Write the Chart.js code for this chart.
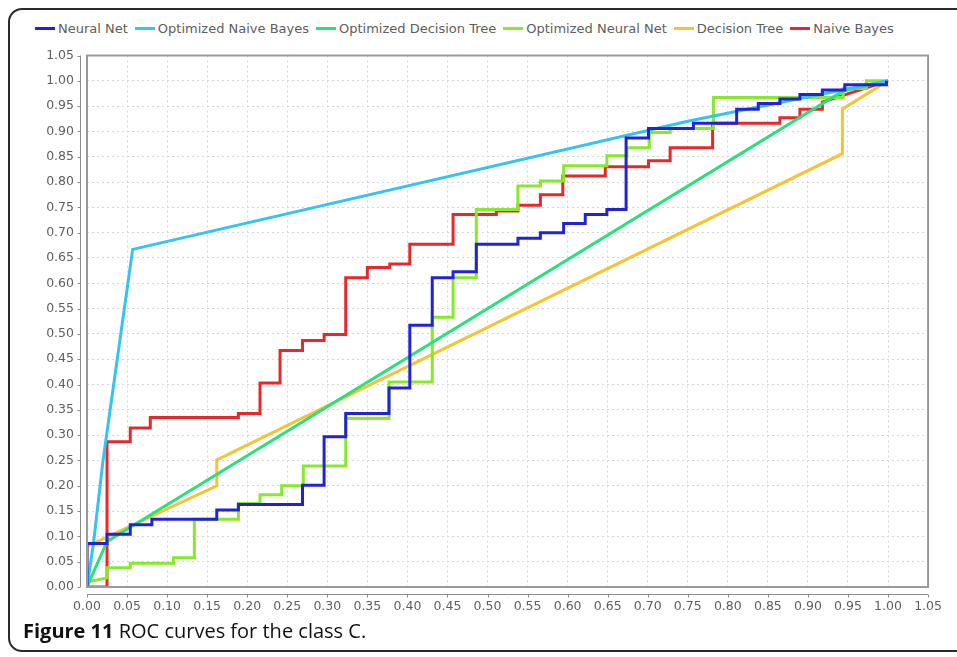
<!DOCTYPE html>
<html>
<head>
<meta charset="utf-8">
<script src="https://cdn.jsdelivr.net/npm/chart.js@4/dist/chart.umd.min.js"></script>
<style>
  body { margin: 0; background: #fff; width: 957px; height: 657px; overflow: hidden; position: relative; }
  #frame { position: absolute; left: 8px; top: 8px; width: 990px; height: 640px; border: 2px solid #2a2a2a; border-radius: 14px; }
  #legend { position: absolute; left: 35px; top: 21px; display: flex; align-items: center; font: 13px "DejaVu Sans", sans-serif; color: #5e5e5e; white-space: nowrap; }
  #legend .item { display: flex; align-items: center; margin-right: 7px; }
  #legend .swatch { width: 20px; height: 3px; margin-right: 3px; }
  #box { position: absolute; left: 0; top: 35px; width: 954px; height: 585px; }
  #caption { position: absolute; left: 23px; top: 617px; font: 20px "Open Sans", sans-serif; color: #111; }
</style>
</head>
<body>
<div id="frame"></div>
<div id="legend"></div>
<div id="box"><canvas id="rocChart"></canvas></div>
<div id="caption"><b>Figure 11</b> ROC curves for the class C.</div>
<script>
const seriesNames = ['Neural Net', 'Optimized Naive Bayes', 'Optimized Decision Tree', 'Optimized Neural Net', 'Decision Tree', 'Naive Bayes'];
const seriesColors = ['#2323d6', '#35c4ef', '#27e27c', '#86ea2a', '#f6c332', '#e6282b'];

// false positive rate (x) / true positive rate (y)
const neuralNetX = [0, 0, 0.025, 0.025, 0.054, 0.054, 0.081, 0.081, 0.162, 0.162, 0.189, 0.189, 0.269, 0.269, 0.296, 0.296, 0.323, 0.323, 0.377, 0.377, 0.403, 0.403, 0.431, 0.431, 0.457, 0.457, 0.486, 0.486, 0.538, 0.538, 0.566, 0.566, 0.595, 0.595, 0.622, 0.622, 0.649, 0.649, 0.673, 0.673, 0.701, 0.701, 0.757, 0.757, 0.811, 0.811, 0.838, 0.838, 0.865, 0.865, 0.890, 0.890, 0.918, 0.918, 0.946, 0.946, 0.998, 0.998];
const neuralNetY = [0, 0.086, 0.086, 0.104, 0.104, 0.123, 0.123, 0.134, 0.134, 0.152, 0.152, 0.163, 0.163, 0.201, 0.201, 0.297, 0.297, 0.343, 0.343, 0.393, 0.393, 0.517, 0.517, 0.611, 0.611, 0.623, 0.623, 0.677, 0.677, 0.689, 0.689, 0.700, 0.700, 0.718, 0.718, 0.736, 0.736, 0.746, 0.746, 0.887, 0.887, 0.906, 0.906, 0.916, 0.916, 0.944, 0.944, 0.955, 0.955, 0.964, 0.964, 0.973, 0.973, 0.982, 0.982, 0.992, 0.992, 1.0];

const optNaiveBayesX = [0, 0.008, 0.020, 0.057, 0.75, 1.0];
const optNaiveBayesY = [0, 0.085, 0.250, 0.667, 0.92, 1.0];

const optDecisionTreeX = [0, 0.025, 0.944, 1.0];
const optDecisionTreeY = [0, 0.090, 0.980, 1.0];

const optNeuralNetX = [0, 0.025, 0.025, 0.054, 0.054, 0.108, 0.108, 0.134, 0.134, 0.189, 0.189, 0.216, 0.216, 0.243, 0.243, 0.270, 0.270, 0.323, 0.323, 0.377, 0.377, 0.431, 0.431, 0.457, 0.457, 0.486, 0.486, 0.538, 0.538, 0.566, 0.566, 0.595, 0.595, 0.649, 0.649, 0.674, 0.674, 0.702, 0.702, 0.728, 0.728, 0.782, 0.782, 0.944, 0.944, 0.973, 0.973, 1.0];
const optNeuralNetY = [0.010, 0.018, 0.038, 0.038, 0.047, 0.047, 0.058, 0.058, 0.134, 0.134, 0.165, 0.165, 0.182, 0.182, 0.200, 0.200, 0.239, 0.239, 0.333, 0.333, 0.405, 0.405, 0.533, 0.533, 0.611, 0.611, 0.746, 0.746, 0.792, 0.792, 0.802, 0.802, 0.832, 0.832, 0.852, 0.852, 0.868, 0.868, 0.898, 0.898, 0.906, 0.906, 0.967, 0.967, 0.985, 0.985, 1.0, 1.0];

const decisionTreeX = [0, 0, 0.162, 0.162, 0.943, 0.943, 1.0];
const decisionTreeY = [0, 0.080, 0.200, 0.251, 0.856, 0.944, 1.0];

const naiveBayesX = [0, 0.025, 0.025, 0.054, 0.054, 0.079, 0.079, 0.189, 0.189, 0.216, 0.216, 0.241, 0.241, 0.269, 0.269, 0.296, 0.296, 0.323, 0.323, 0.350, 0.350, 0.378, 0.378, 0.403, 0.403, 0.457, 0.457, 0.511, 0.511, 0.538, 0.538, 0.566, 0.566, 0.594, 0.594, 0.647, 0.647, 0.701, 0.701, 0.728, 0.728, 0.781, 0.781, 0.865, 0.865, 0.890, 0.890, 0.918, 0.918, 1.0];
const naiveBayesY = [0, 0, 0.287, 0.287, 0.314, 0.314, 0.335, 0.335, 0.343, 0.343, 0.403, 0.403, 0.467, 0.467, 0.487, 0.487, 0.499, 0.499, 0.611, 0.611, 0.631, 0.631, 0.638, 0.638, 0.677, 0.677, 0.736, 0.736, 0.743, 0.743, 0.754, 0.754, 0.775, 0.775, 0.812, 0.812, 0.830, 0.830, 0.842, 0.842, 0.868, 0.868, 0.916, 0.916, 0.927, 0.927, 0.944, 0.944, 0.958, 1.0];

const tickValues = [0, 0.05, 0.1, 0.15, 0.2, 0.25, 0.3, 0.35, 0.4, 0.45, 0.5, 0.55, 0.6, 0.65, 0.7, 0.75, 0.8, 0.85, 0.9, 0.95, 1.0, 1.05];

const toPoints = (xs, ys) => xs.map((x, i) => ({x: x, y: ys[i]}));

const seriesPoints = [
    toPoints(neuralNetX, neuralNetY),
    toPoints(optNaiveBayesX, optNaiveBayesY),
    toPoints(optDecisionTreeX, optDecisionTreeY),
    toPoints(optNeuralNetX, optNeuralNetY),
    toPoints(decisionTreeX, decisionTreeY),
    toPoints(naiveBayesX, naiveBayesY)
];

// plot outline plus the offset axis lines, like the original
const frameLines = {
    id: 'frameLines',
    afterDatasetsDraw(chart) {
        const {ctx, chartArea: a, scales} = chart;
        ctx.save();
        ctx.strokeStyle = '#9a9a9a';
        ctx.lineWidth = 2;
        ctx.strokeRect(a.left, a.top, a.right - a.left, a.bottom - a.top);
        ctx.strokeStyle = '#8c8c8c';
        ctx.lineWidth = 1;
        ctx.beginPath();
        const ax = a.left - 6.5;
        ctx.moveTo(ax, a.top);
        ctx.lineTo(ax, a.bottom);
        const ay = a.bottom + 7.5;
        ctx.moveTo(a.left, ay);
        ctx.lineTo(a.right, ay);
        tickValues.forEach(v => {
            const py = Math.round(scales.y.getPixelForValue(v)) + 0.5;
            ctx.moveTo(ax - 3, py);
            ctx.lineTo(ax, py);
            const px = Math.round(scales.x.getPixelForValue(v)) + 0.5;
            ctx.moveTo(px, ay);
            ctx.lineTo(px, ay + 3);
        });
        ctx.stroke();
        ctx.restore();
    }
};

const axisOpts = (isX) => ({
    type: 'linear',
    min: 0,
    max: 1.05,
    afterBuildTicks: (scale) => { scale.ticks = tickValues.map(v => ({value: v})); },
    afterFit: (scale) => {
        if (isX) scale.height = 33; else scale.width = 87;
    },
    ticks: {
        color: '#5e5e5e',
        font: {family: 'DejaVu Sans', size: 12.5},
        padding: isX ? 12 : 13,
        callback: (v) => v.toFixed(2)
    },
    grid: {color: '#d6d6d6', lineWidth: 1, drawTicks: false},
    border: {display: false, dash: [2, 3]}
});

const chart = new Chart(document.getElementById('rocChart'), {
    type: 'scatter',
    data: {
        datasets: seriesNames.map((name, i) => ({
            label: name,
            data: seriesPoints[i],
            showLine: true,
            borderColor: seriesColors[i],
            backgroundColor: seriesColors[i],
            borderWidth: 3,
            pointRadius: 0,
            tension: 0
        }))
    },
    options: {
        responsive: true,
        maintainAspectRatio: false,
        animation: false,
        layout: {padding: {top: 10, right: 22, bottom: 0, left: 0}},
        scales: {x: axisOpts(true), y: axisOpts(false)},
        plugins: {legend: {display: false}, tooltip: {enabled: false}}
    },
    plugins: [frameLines]
});

// html legend built from the datasets
const legendBox = document.getElementById('legend');
chart.data.datasets.forEach(ds => {
    const item = document.createElement('div');
    item.className = 'item';
    item.innerHTML = `<span class="swatch" style="background:${ds.borderColor}"></span><span>${ds.label}</span>`;
    legendBox.appendChild(item);
});
</script>
</body>
</html>
